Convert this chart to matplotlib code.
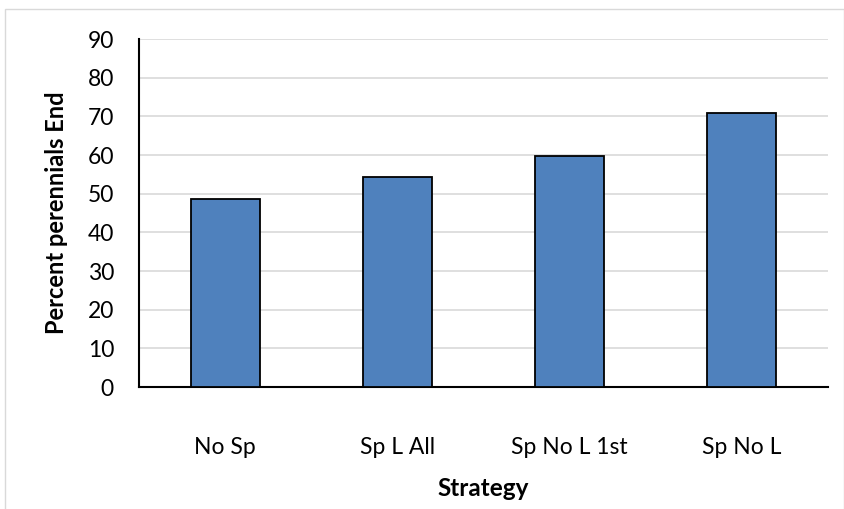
import matplotlib
matplotlib.use("Agg")
import matplotlib.pyplot as plt
from matplotlib.patches import Rectangle

# データ
strategies = ["No Sp", "Sp L All", "Sp No L 1st", "Sp No L"]
perennials_end = [48.5, 54.4, 59.7, 70.8]
y_ticks = [0, 10, 20, 30, 40, 50, 60, 70, 80, 90]

plt.rcParams['font.family'] = ['Lato', 'DejaVu Sans']

fig = plt.figure(figsize=(8.45, 5.09), dpi=100)
# 外枠(グラフエリアの枠線)
fig.patches.append(Rectangle((5/845, -0.01), 839/845, 1 - 9/509 + 0.01, transform=fig.transFigure,
                             fill=False, edgecolor="#d9d9d9", linewidth=1))

ax = fig.add_axes([139/845, 1 - 387/509, 689/845, 348/509])
x = range(len(strategies))
ax.bar(x, perennials_end, width=0.4, color="#4f81bd", edgecolor="black", linewidth=1.3, zorder=3)

ax.set_xlim(-0.5, len(strategies) - 0.5)
ax.set_ylim(0, 90)
ax.set_yticks(y_ticks)
ax.set_xticks(list(x))
ax.set_xticklabels(strategies, fontsize=16.5)
ax.tick_params(axis="y", labelsize=16.5, length=0, pad=18)
ax.tick_params(axis="x", length=0, pad=36)
ax.grid(axis="y", color="#d9d9d9", linewidth=1.2, zorder=0)

for s in ["top", "right"]:
    ax.spines[s].set_visible(False)
ax.spines["left"].set_linewidth(1.5)
ax.spines["bottom"].set_linewidth(1.5)

ax.set_ylabel("Percent perennials End", fontsize=17, fontweight="bold", labelpad=14)
ax.set_xlabel("Strategy", fontsize=17.5, fontweight="bold", labelpad=14)

fig.savefig("out.png", dpi=100)
